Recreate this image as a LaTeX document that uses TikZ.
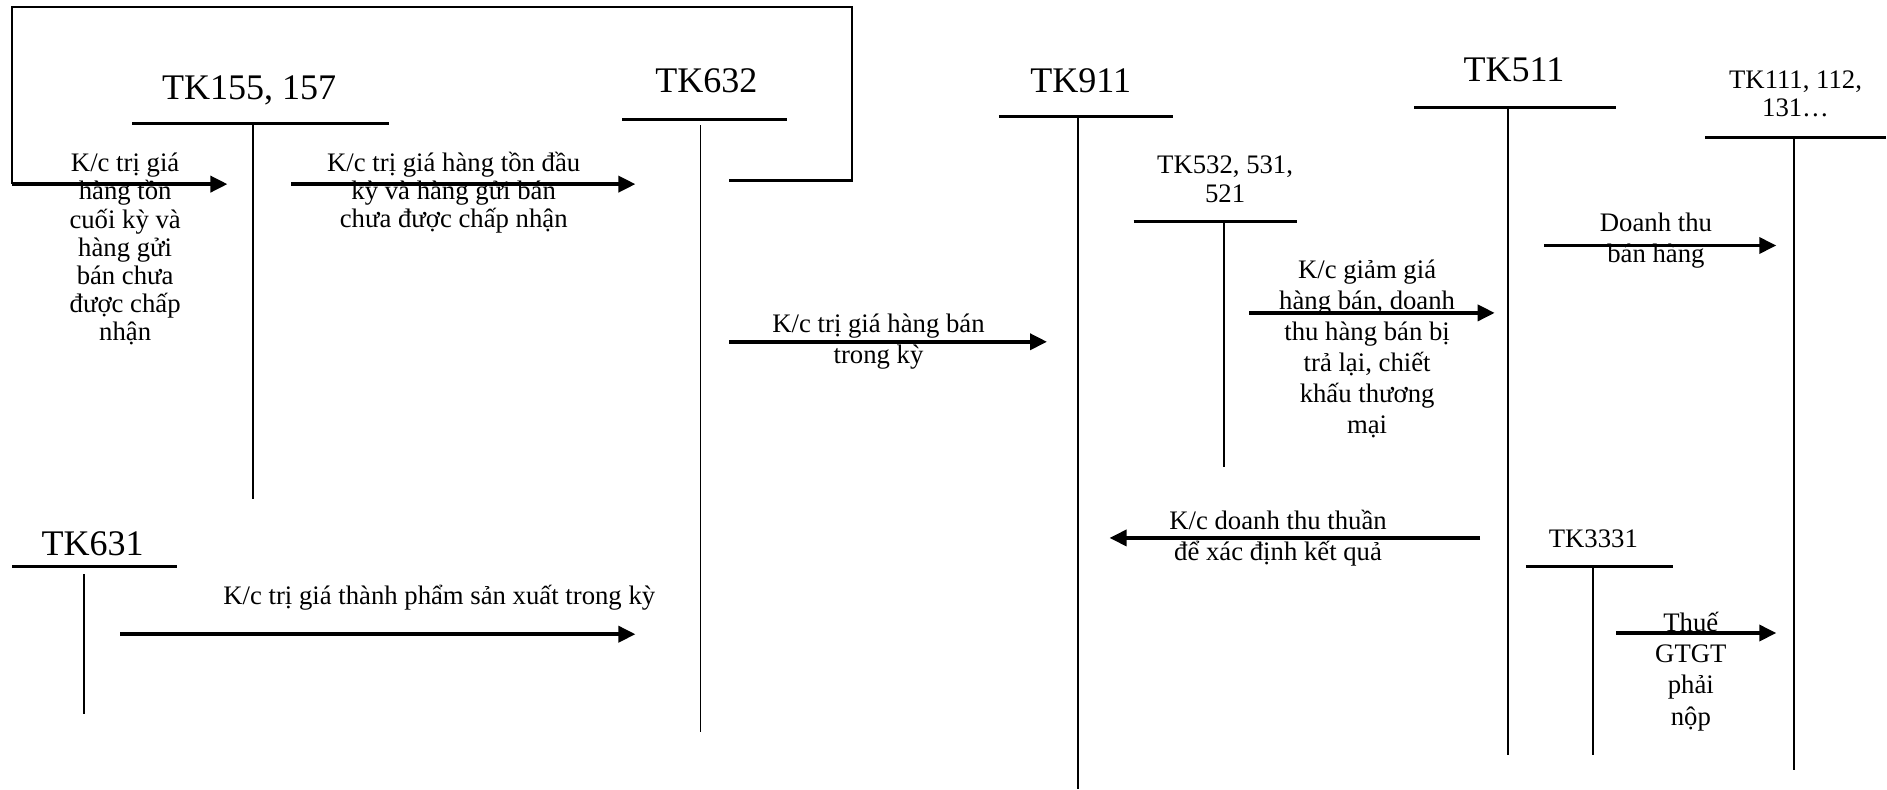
\documentclass[tikz,border=0pt]{standalone}
\usepackage{fontspec}
\setmainfont{Liberation Serif}
\usetikzlibrary{arrows.meta}

\begin{document}
\begin{tikzpicture}[x=0.02407cm,y=-0.02407cm]
\tikzstyle{big}=[inner sep=0pt,font=\fontsize{20.5}{24}\selectfont]
\tikzstyle{txt}=[inner sep=0pt,align=center,font=\fontsize{15.2}{16}\selectfont]
\tikzstyle{txtw}=[inner sep=0pt,align=center,font=\fontsize{15.2}{17.7}\selectfont]
\tikzstyle{bar}=[line width=1.7pt]
\tikzstyle{stem}=[line width=1pt]
\tikzstyle{frame}=[line width=1.3pt]
\tikzstyle{arr}=[line width=2.05pt,-{Triangle[length=0.34cm,width=0.32cm]}]
\useasboundingbox (0,0) rectangle (1568,656);

% account names
\node [big] (t155) at (207,75) {TK155, 157};
\node [big] (t632) at (587,67) {TK632};
\node [big] (t911) at (898,67) {TK911};
\node [big] (t511) at (1258,58) {TK511};
\node [big] (t631) at (77,452) {TK631};
\node [txt] (t532) at (1018,149) {TK532, 531,\\521};
\node [txt] (t111) at (1492,78) {TK111, 112,\\131…};
\node [txt] (t3331) at (1324,448) {TK3331};

% T lines
\draw [bar] (110,103) -- (323,103);
\draw [stem] (210,103) -- (210,415);
\draw [bar] (517,99) -- (654,99);
\draw [stem] (582,104) -- (582,608);
\draw [bar] (830,97) -- (975,97);
\draw [stem] (896,97) -- (896,656);
\draw [bar] (942,184) -- (1078,184);
\draw [stem] (1017,184) -- (1017,388);
\draw [bar] (1175,89) -- (1343,89);
\draw [stem] (1253,89) -- (1253,627);
\draw [bar] (1417,114) -- (1567,114);
\draw [stem] (1491,114) -- (1491,640);
\draw [bar] (10,471) -- (147,471);
\draw [stem] (70,477) -- (70,593);
\draw [bar] (1268,471) -- (1390,471);
\draw [stem] (1324,471) -- (1324,627);

% arrow ends
\coordinate (back) at (606,150);
\coordinate (a1s) at (10,153);   \coordinate (a1e) at (189,153);
\coordinate (a2s) at (242,153);  \coordinate (a2e) at (528,153);
\coordinate (a3s) at (606,284);  \coordinate (a3e) at (870,284);
\coordinate (a4s) at (100,527);  \coordinate (a4e) at (528,527);
\coordinate (a5s) at (1038,260); \coordinate (a5e) at (1242,260);
\coordinate (a6s) at (1283,204); \coordinate (a6e) at (1476,204);
\coordinate (a7s) at (1230,447); \coordinate (a7e) at (922,447);
\coordinate (a8s) at (1343,526); \coordinate (a8e) at (1476,526);

\draw [frame] (back) -- (708,150) -- (708,6) -- (10,6) -- (a1s);
\draw [arr] (a1s) -- (a1e);
\draw [arr] (a2s) -- (a2e);
\draw [arr] (a3s) -- (a3e);
\draw [arr] (a4s) -- (a4e);
\draw [arr] (a5s) -- (a5e);
\draw [arr] (a6s) -- (a6e);
\draw [arr] (a7s) -- (a7e);
\draw [arr] (a8s) -- (a8e);

% labels
\node [txt] (k1) at (104,207) {K/c trị giá\\hàng tồn\\cuối kỳ và\\hàng gửi\\bán chưa\\được chấp\\nhận};
\node [txt] (k2) at (377,160) {K/c trị giá hàng tồn đầu\\kỳ và hàng gửi bán\\chưa được chấp nhận};
\node [txtw] (k3) at (730,284) {K/c trị giá hàng bán\\trong kỳ};
\node [txt] (k4) at (365,497) {K/c trị giá thành phẩm sản xuất trong kỳ};
\node [txtw] (k5) at (1136,290) {K/c giảm giá\\hàng bán, doanh\\thu hàng bán bị\\trả lại, chiết\\khấu thương\\mại};
\node [txtw] (k6) at (1376,200) {Doanh thu\\bán hàng};
\node [txtw] (k7) at (1062,447) {K/c doanh thu thuần\\để xác định kết quả};
\node [txtw] (k8) at (1405,558) {Thuế\\GTGT\\phải\\nộp};
\end{tikzpicture}
\end{document}
